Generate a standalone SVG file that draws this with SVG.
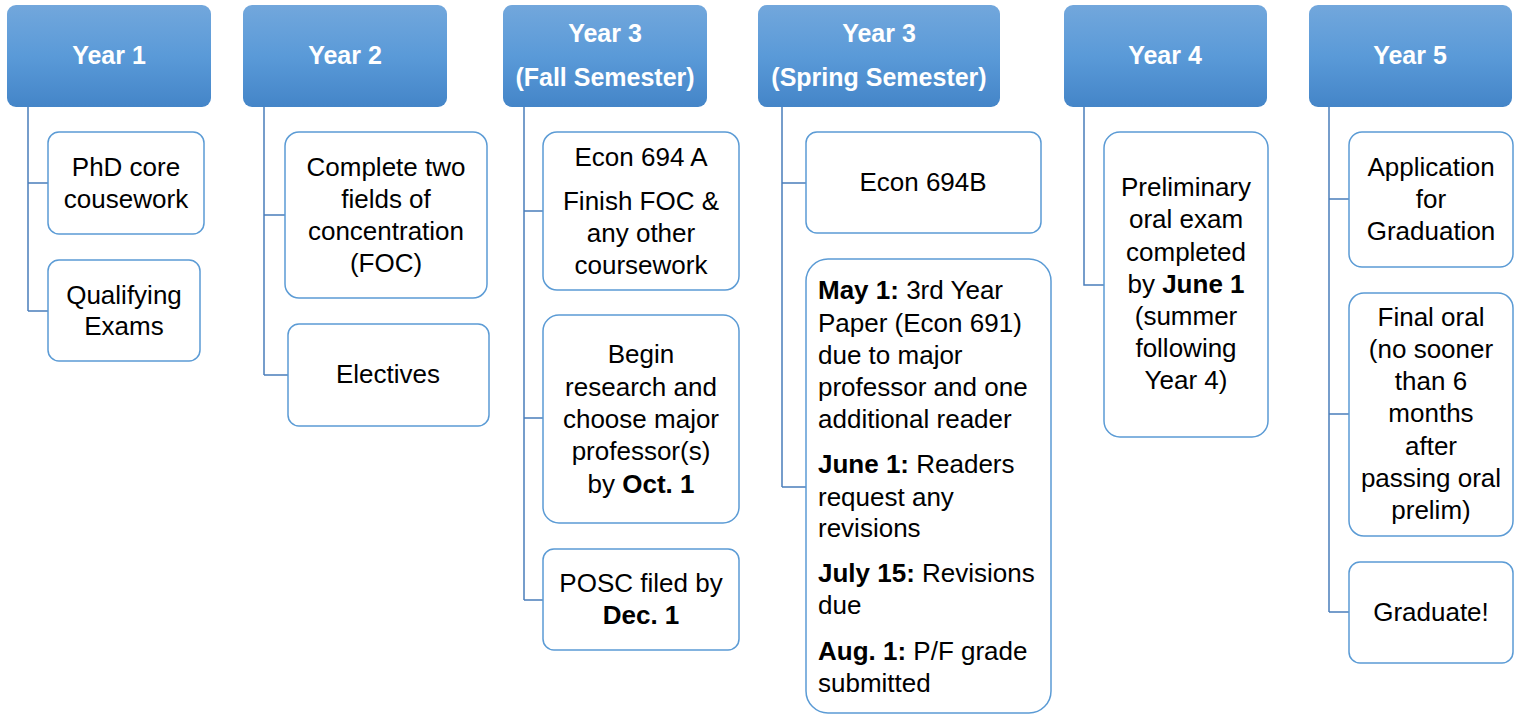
<svg xmlns="http://www.w3.org/2000/svg" width="1520" height="715" viewBox="0 0 1520 715">
<defs>
<linearGradient id="hg" x1="0" y1="0" x2="0" y2="1">
<stop offset="0" stop-color="#72a7dc"/>
<stop offset="0.5" stop-color="#5a9ad8"/>
<stop offset="1" stop-color="#4485c8"/>
</linearGradient>
<style>
.hdr{fill:url(#hg);stroke:none}
.hdr-t{font-family:"Liberation Sans",Arial,sans-serif;font-size:25px;font-weight:bold;fill:#ffffff;text-anchor:middle}
.box{fill:#ffffff;stroke:#5b9bd5;stroke-width:1.5}
.t{font-family:"Liberation Sans",Arial,sans-serif;font-size:26px;fill:#000000;text-anchor:middle}
.tl{font-family:"Liberation Sans",Arial,sans-serif;font-size:26px;fill:#000000}
.b{font-weight:bold}
.con{fill:none;stroke:#4a7ebb;stroke-width:1.5}
</style>
</defs>
<rect width="1520" height="715" fill="#ffffff"/>

<g id="connectors">
<path class="con" d="M28,107 V311 M28,183 H48 M28,311 H48"/>
<path class="con" d="M264,107 V375 M264,215 H285 M264,375 H288"/>
<path class="con" d="M524,107 V600 M524,211 H543 M524,418 H543 M524,600 H543"/>
<path class="con" d="M782,107 V487 M782,183 H806 M782,487 H806"/>
<path class="con" d="M1084,107 V285 H1104"/>
<path class="con" d="M1329,107 V612 M1329,199 H1349 M1329,414 H1349 M1329,612 H1349"/>
</g>

<g id="year1">
<rect class="hdr" x="7" y="5" width="204" height="102" rx="9"/>
<text class="hdr-t" x="109" y="64">Year 1</text>
</g>
<g id="y1-core">
<rect class="box" x="48" y="132" width="156" height="102" rx="11"/>
<text class="t" x="126" y="176">PhD core</text>
<text class="t" x="126" y="208">cousework</text>
</g>
<g id="y1-qual">
<rect class="box" x="48" y="260" width="152" height="101" rx="11"/>
<text class="t" x="124" y="304">Qualifying</text>
<text class="t" x="124" y="335">Exams</text>
</g>

<g id="year2">
<rect class="hdr" x="243" y="5" width="204" height="102" rx="9"/>
<text class="hdr-t" x="345" y="64">Year 2</text>
</g>
<g id="y2-foc">
<rect class="box" x="285" y="132" width="202" height="166" rx="14"/>
<text class="t" x="386" y="176">Complete two</text>
<text class="t" x="386" y="208">fields of</text>
<text class="t" x="386" y="240">concentration</text>
<text class="t" x="386" y="272">(FOC)</text>
</g>
<g id="y2-elec">
<rect class="box" x="288" y="324" width="201" height="102" rx="11"/>
<text class="t" x="388" y="383">Electives</text>
</g>

<g id="year3fall">
<rect class="hdr" x="503" y="5" width="204" height="102" rx="9"/>
<text class="hdr-t" x="605" y="42">Year 3</text>
<text class="hdr-t" x="605" y="86">(Fall Semester)</text>
</g>
<g id="y3f-econ">
<rect class="box" x="543" y="132" width="196" height="158" rx="14"/>
<text class="t" x="641" y="166">Econ 694 A</text>
<text class="t" x="641" y="210">Finish FOC &amp;</text>
<text class="t" x="641" y="242">any other</text>
<text class="t" x="641" y="274">coursework</text>
</g>
<g id="y3f-research">
<rect class="box" x="543" y="315" width="196" height="208" rx="16"/>
<text class="t" x="641" y="363">Begin</text>
<text class="t" x="641" y="396">research and</text>
<text class="t" x="641" y="428">choose major</text>
<text class="t" x="641" y="460">professor(s)</text>
<text class="t" x="641" y="493">by <tspan class="b">Oct. 1</tspan></text>
</g>
<g id="y3f-posc">
<rect class="box" x="543" y="549" width="196" height="101" rx="11"/>
<text class="t" x="641" y="592">POSC filed by</text>
<text class="t b" x="641" y="624">Dec. 1</text>
</g>

<g id="year3spring">
<rect class="hdr" x="758" y="5" width="242" height="102" rx="9"/>
<text class="hdr-t" x="879" y="42">Year 3</text>
<text class="hdr-t" x="879" y="86">(Spring Semester)</text>
</g>
<g id="y3s-econ">
<rect class="box" x="806" y="132" width="235" height="101" rx="11"/>
<text class="t" x="923" y="191">Econ 694B</text>
</g>
<g id="y3s-paper">
<rect class="box" x="806" y="259" width="245" height="454" rx="22"/>
<text class="tl" x="818" y="299"><tspan class="b">May 1:</tspan> 3rd Year</text>
<text class="tl" x="818" y="332">Paper (Econ 691)</text>
<text class="tl" x="818" y="364">due to major</text>
<text class="tl" x="818" y="396">professor and one</text>
<text class="tl" x="818" y="428">additional reader</text>
<text class="tl" x="818" y="473"><tspan class="b">June 1:</tspan> Readers</text>
<text class="tl" x="818" y="506">request any</text>
<text class="tl" x="818" y="537">revisions</text>
<text class="tl" x="818" y="582"><tspan class="b">July 15:</tspan> Revisions</text>
<text class="tl" x="818" y="614">due</text>
<text class="tl" x="818" y="660"><tspan class="b">Aug. 1:</tspan> P/F grade</text>
<text class="tl" x="818" y="692">submitted</text>
</g>

<g id="year4">
<rect class="hdr" x="1064" y="5" width="203" height="102" rx="9"/>
<text class="hdr-t" x="1165" y="64">Year 4</text>
</g>
<g id="y4-prelim">
<rect class="box" x="1104" y="132" width="164" height="305" rx="16"/>
<text class="t" x="1186" y="196">Preliminary</text>
<text class="t" x="1186" y="228">oral exam</text>
<text class="t" x="1186" y="261">completed</text>
<text class="t" x="1186" y="293">by <tspan class="b">June 1</tspan></text>
<text class="t" x="1186" y="325">(summer</text>
<text class="t" x="1186" y="357">following</text>
<text class="t" x="1186" y="389">Year 4)</text>
</g>

<g id="year5">
<rect class="hdr" x="1309" y="5" width="203" height="102" rx="9"/>
<text class="hdr-t" x="1410" y="64">Year 5</text>
</g>
<g id="y5-app">
<rect class="box" x="1349" y="132" width="164" height="135" rx="13"/>
<text class="t" x="1431" y="176">Application</text>
<text class="t" x="1431" y="208">for</text>
<text class="t" x="1431" y="240">Graduation</text>
</g>
<g id="y5-final">
<rect class="box" x="1349" y="293" width="164" height="243" rx="15"/>
<text class="t" x="1431" y="326">Final oral</text>
<text class="t" x="1431" y="358">(no sooner</text>
<text class="t" x="1431" y="390">than 6</text>
<text class="t" x="1431" y="422">months</text>
<text class="t" x="1431" y="455">after</text>
<text class="t" x="1431" y="487">passing oral</text>
<text class="t" x="1431" y="519">prelim)</text>
</g>
<g id="y5-grad">
<rect class="box" x="1349" y="562" width="164" height="101" rx="11"/>
<text class="t" x="1431" y="621">Graduate!</text>
</g>
</svg>
